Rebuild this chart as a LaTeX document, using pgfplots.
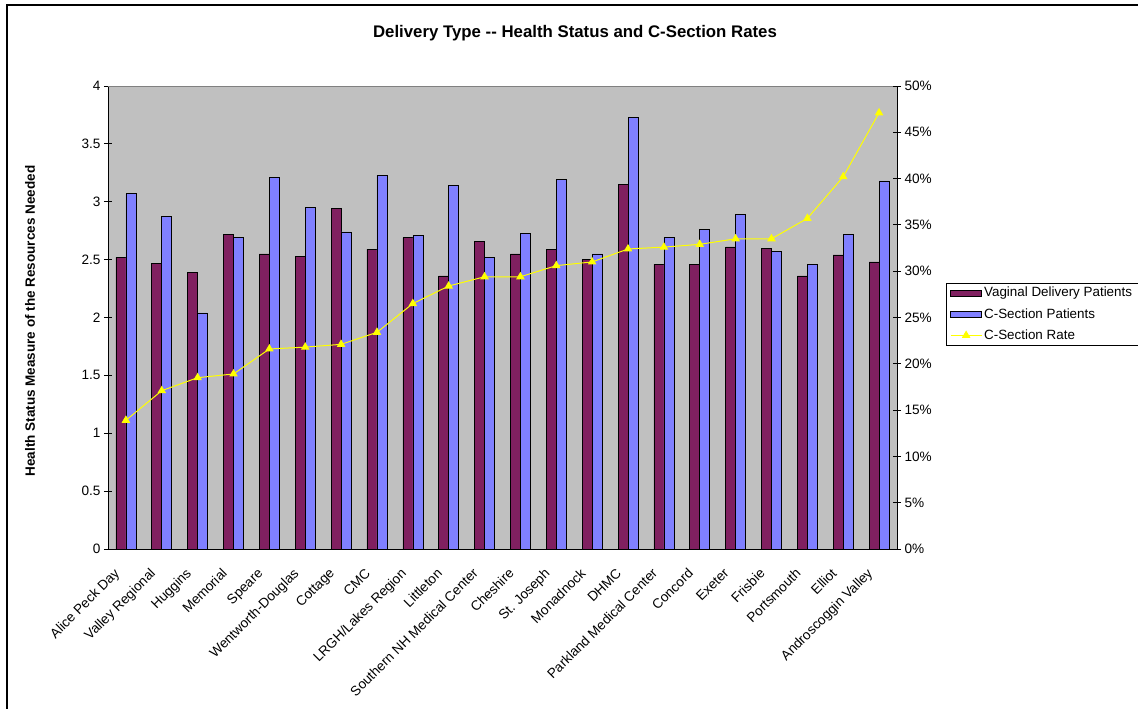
\documentclass[border=0pt]{standalone}
\usepackage{fontspec}
\setmainfont{Liberation Sans}
\usepackage{pgfplots}
\pgfplotsset{compat=1.18}
\definecolor{vag}{RGB}{128,32,96}
\definecolor{cs}{RGB}{128,128,255}
\definecolor{bg}{RGB}{192,192,192}
\definecolor{lin}{RGB}{255,255,0}

\pgfplotstableread{
x vag cs rate
0  2.52 3.07 13.9
1  2.47 2.87 17.1
2  2.39 2.04 18.5
3  2.72 2.69 18.9
4  2.55 3.21 21.6
5  2.53 2.95 21.8
6  2.94 2.74 22.1
7  2.59 3.23 23.4
8  2.69 2.71 26.5
9  2.36 3.14 28.4
10 2.66 2.52 29.4
11 2.55 2.73 29.4
12 2.59 3.19 30.6
13 2.50 2.55 31.0
14 3.15 3.73 32.4
15 2.46 2.69 32.6
16 2.46 2.76 32.9
17 2.61 2.89 33.5
18 2.60 2.57 33.5
19 2.36 2.46 35.7
20 2.54 2.72 40.2
21 2.48 3.18 47.1
}\data

\begin{document}
\begin{tikzpicture}
\begin{axis}[
  name=main,
  scale only axis, width=789pt, height=463pt,
  xmin=-0.5, xmax=21.5, ymin=0, ymax=4,
  axis background/.style={fill=bg},
  axis x line*=bottom, axis y line*=left,
  axis line style={black, line width=0.8pt},
  ybar=0pt, bar width=10pt,
  xtick={0,...,21},
  xticklabels={Alice Peck Day, Valley Regional, Huggins, Memorial, Speare, Wentworth-Douglas, Cottage, CMC, LRGH/Lakes Region, Littleton, Southern NH Medical Center, Cheshire, St. Joseph, Monadnock, DHMC, Parkland Medical Center, Concord, Exeter, Frisbie, Portsmouth, Elliot, Androscoggin Valley},
  x tick label style={rotate=45, anchor=north east, font=\fontsize{13.6}{15}\selectfont, inner sep=1pt, yshift=0pt, xshift=-18pt},
  major x tick style={draw=none},
  extra x ticks={-0.5,0.5,...,21.5},
  extra x tick labels={},
  extra x tick style={major tick length=8pt, tick align=center, tick style={black, line width=0.8pt}},
  ytick={0,0.5,...,4},
  yticklabels={0,0.5,1,1.5,2,2.5,3,3.5,4},
  y tick label style={font=\fontsize{13.6}{15}\selectfont},
  major y tick style={black, line width=0.8pt},
  major tick length=8pt, tick align=center,
  legend style={at={(1.062,0.5745)}, anchor=north west, draw=black, fill=white,
    font=\fontsize{13.4}{15}\selectfont, cells={anchor=west}, row sep=6pt, inner sep=2pt, inner xsep=4pt},
  legend image code/.code={\draw[#1, draw=black] (0pt,-3pt) rectangle (31pt,3pt);},
  clip=false,
]
\addplot[fill=vag, draw=black, line width=0.6pt] table[x=x, y=vag] {\data};
\addlegendentry{Vaginal Delivery Patients}
\addplot[fill=cs, draw=black, line width=0.6pt] table[x=x, y=cs] {\data};
\addlegendentry{C-Section Patients}
\addlegendimage{lin, line width=1pt, legend image code/.code={\draw[lin, line width=1pt] (0pt,0pt) -- (31pt,0pt); \fill[lin] (15.5pt,3.8pt) -- (12pt,-2.2pt) -- (19pt,-2.2pt) -- cycle;}}
\addlegendentry{C-Section Rate}
\draw[gray, line width=1pt] (rel axis cs:0,1) -- (rel axis cs:1,1);
\end{axis}

\begin{axis}[
  scale only axis, width=789pt, height=463pt,
  xmin=-0.5, xmax=21.5, ymin=0, ymax=50,
  axis x line=none, axis y line*=right,
  axis line style={black, line width=0.8pt},
  ytick={0,5,...,50},
  yticklabels={0\%,5\%,10\%,15\%,20\%,25\%,30\%,35\%,40\%,45\%,50\%},
  y tick label style={font=\fontsize{13.6}{15}\selectfont},
  major y tick style={black, line width=0.8pt},
  major tick length=8pt, tick align=center,
  clip=false,
]
\addplot[lin, line width=1pt, mark=triangle*, mark size=4pt, mark options={fill=lin, draw=lin}] table[x=x, y=rate] {\data};
\end{axis}

\begin{scope}[x=1pt,y=1pt]
\pgfresetboundingbox
\useasboundingbox (-108,-160) rectangle (1030,549);
\draw[black, line width=1.2pt] (-101,-160) -- (-101,544) -- (1030,544);
\node[font=\bfseries\fontsize{16.8}{18}\selectfont] at (467,516) {Delivery Type {-}{-} Health Status and C-Section Rates};
\node[rotate=90, font=\bfseries\fontsize{13.5}{15}\selectfont] at (-78,228) {Health Status Measure of the Resources Needed};
\end{scope}
\end{tikzpicture}
\end{document}
